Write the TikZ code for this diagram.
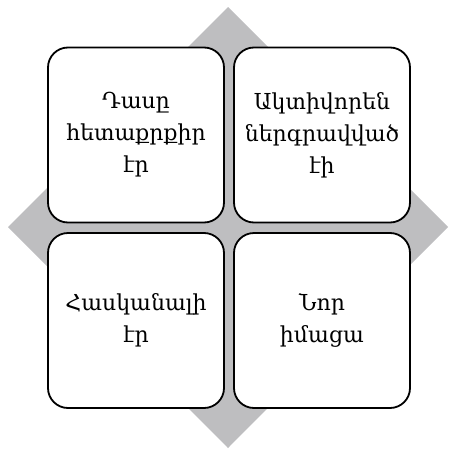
\documentclass[tikz,border=0pt]{standalone}
\usepackage{fontspec}
\setmainfont{DejaVu Serif}
\definecolor{diagray}{RGB}{190,190,192}
\begin{document}
\begin{tikzpicture}[x=1pt,y=-1pt,
  qbox/.style={draw=black, line width=1.8pt, fill=white, rounded corners=20pt,
    minimum width=176pt, minimum height=175pt, text width=170pt, align=center,
    font=\fontsize{22}{32}\selectfont, inner sep=0pt}]
\useasboundingbox (0,0) rectangle (448,450);
\fill[diagray] (228,7) -- (448,227) -- (228,448) -- (8,227) -- cycle;
\node[qbox] (a) at (136,135) {Դասը\\հետաքրքիր\\էր};
\node[qbox] (b) at (322,135) {Ակտիվորեն\\ներգրավված\\էի};
\node[qbox] (c) at (136,320.5) {Հասկանալի\\էր};
\node[qbox] (d) at (322,320.5) {Նոր\\իմացա};
\end{tikzpicture}
\end{document}
